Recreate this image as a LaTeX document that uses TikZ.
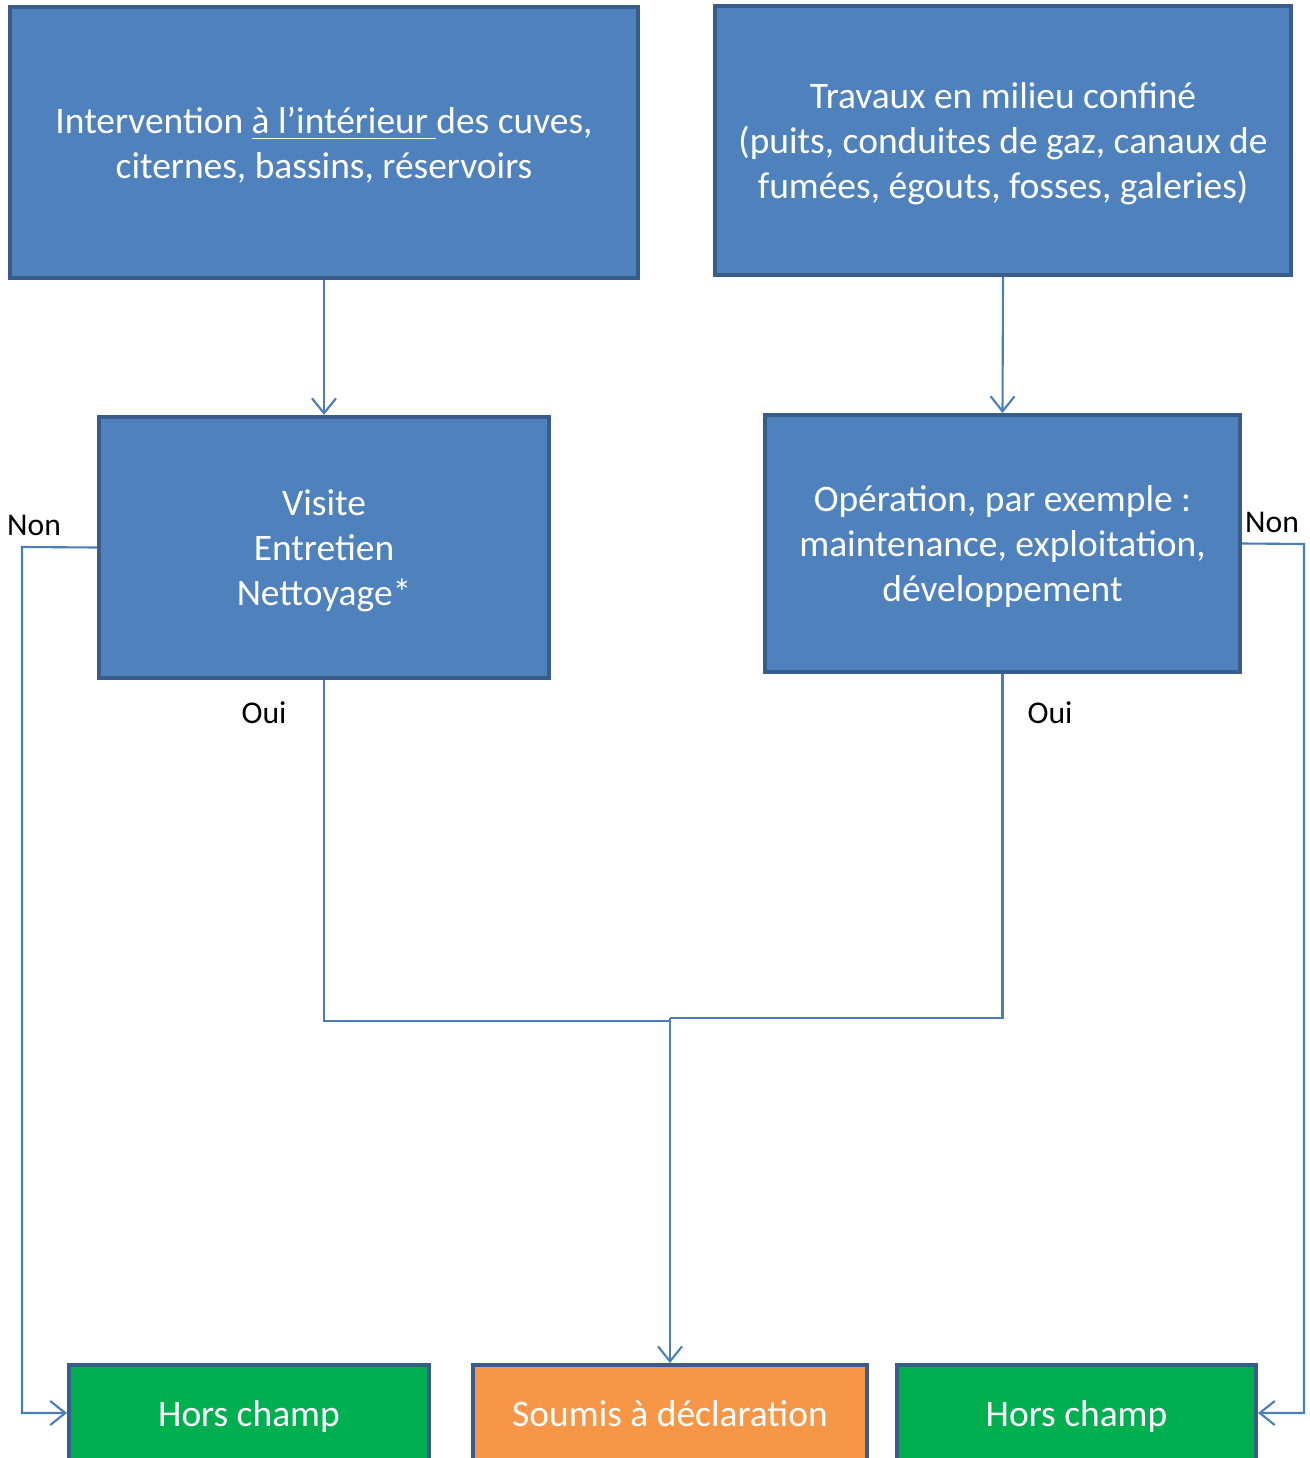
\documentclass[tikz,border=0pt]{standalone}
\usepackage{fontspec}
\setmainfont{Carlito}
\usepackage{xcolor}
\usetikzlibrary{arrows.meta}
\definecolor{boxfill}{RGB}{79,129,189}
\definecolor{boxline}{RGB}{56,93,138}
\definecolor{linkcol}{RGB}{74,126,187}
\definecolor{horsfill}{RGB}{0,176,80}
\definecolor{declfill}{RGB}{247,150,70}

% Struts that fix where the lines sit in a box.
\newcommand\topstrut{\rule{0pt}{10pt}}
\newcommand\botstrut{\rule[-2.5pt]{0pt}{0pt}}

\tikzset{
  stepbox/.style={draw=boxline, line width=1.1pt, fill=boxfill, text=white,
    align=center, inner sep=0pt, font=\fontsize{10.65}{12.8}\selectfont},
  endbox/.style={stepbox, minimum height=0.96cm, text height=7.4pt, text depth=0pt},
  link/.style={draw=linkcol, line width=0.6pt, -{Straight Barb[length=1.5mm,width=2.4mm]}},
  answer/.style={font=\fontsize{9}{11}\selectfont, inner sep=0pt}
}

\begin{document}
\begin{tikzpicture}[x=0.01cm,y=-0.01cm]

  \useasboundingbox (0,0) rectangle (1310,1458);

  % Top boxes.
  \node[stepbox, minimum width=6.28cm, minimum height=2.71cm] (interv) at (324,142.5)
    {\topstrut Intervention \underline{à l’intérieur\ }des cuves,\\ citernes, bassins, réservoirs\botstrut};
  \node[stepbox, minimum width=5.76cm, minimum height=2.69cm] (travaux) at (1003,140.5)
    {\topstrut Travaux en milieu confiné\\ (puits, conduites de gaz, canaux de\\ fumées, égouts, fosses, galeries)\botstrut};

  % Middle boxes.
  \node[stepbox, minimum width=4.5cm, minimum height=2.61cm] (visite) at (324,547.5)
    {\topstrut Visite\\ Entretien\\ Nettoyage*\botstrut};
  \node[stepbox, minimum width=4.75cm, minimum height=2.57cm] (operation) at (1002.5,543.5)
    {\topstrut Opération, par exemple :\\ maintenance, exploitation,\\ développement\botstrut};

  % Bottom boxes (cut at the lower edge).
  \node[endbox, fill=horsfill, minimum width=3.6cm] (horsL) at (249,1413) {Hors champ};
  \node[endbox, fill=declfill, minimum width=3.94cm] (decl) at (670,1413) {Soumis à déclaration};
  \node[endbox, fill=horsfill, minimum width=3.59cm] (horsR) at (1076.5,1413) {Hors champ};

  % Corners of the connectors.
  \coordinate (nonL) at (22,547);
  \coordinate (nonR) at (1304,544);
  \coordinate (joinL) at (670,1021);
  \coordinate (joinR) at (670,1018);

  \draw[link] (interv.south) -- (visite.north);
  \draw[link] (travaux.south) -- (operation.north);
  \draw[link] (visite.west) -- (nonL) |- (horsL.west);
  \draw[link] (operation.east) -- (nonR) |- (horsR.east);
  \draw[link, -] (visite.south) |- (joinL);
  \draw[link, -] (operation.south) |- (joinR);
  \draw[link] (joinR) -- (decl.north);

  % Answers.
  \node[answer] (nonLtxt) at (34,525) {Non};
  \node[answer] (nonRtxt) at (1272,522) {Non};
  \node[answer] (ouiL) at (264,713) {Oui};
  \node[answer] (ouiR) at (1050,713) {Oui};

\end{tikzpicture}
\end{document}
